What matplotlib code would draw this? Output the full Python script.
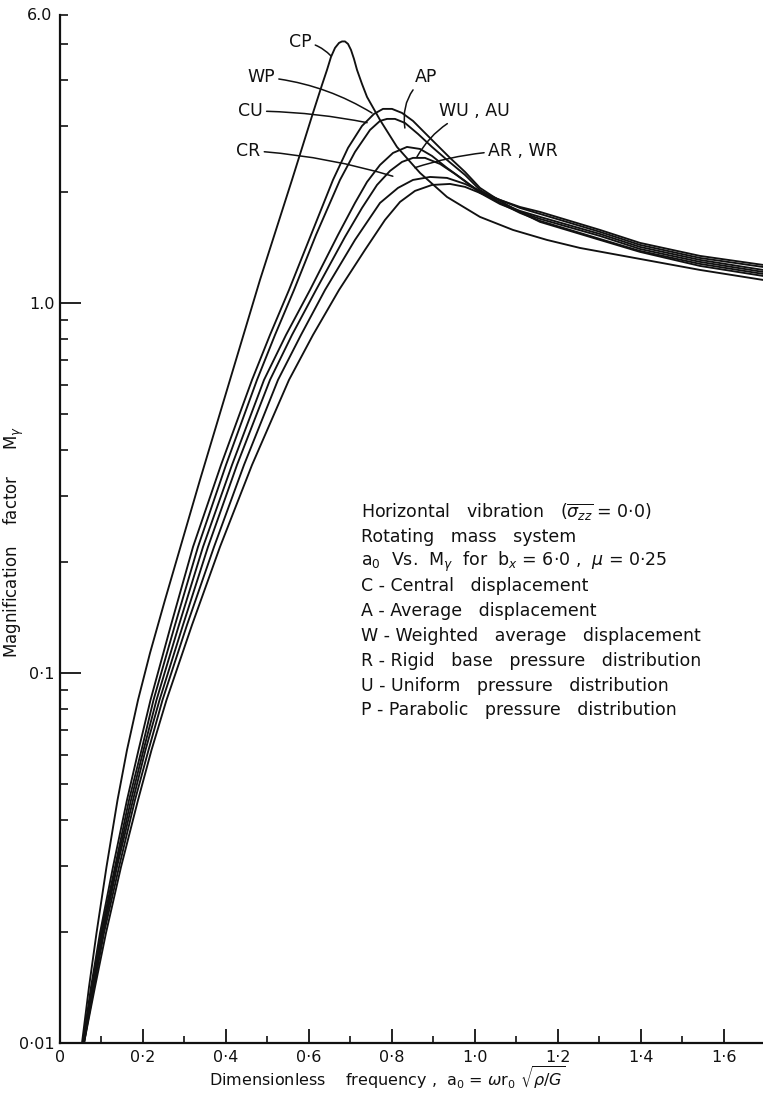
import matplotlib
matplotlib.use("Agg")
import matplotlib.pyplot as plt
import matplotlib.transforms as mtransforms
from matplotlib.ticker import NullFormatter

# ---------------- data ----------------
cp_a = [0.0530, 0.0699, 0.0880, 0.1120, 0.1386, 0.1614, 0.1880, 0.2169, 0.2530, 0.3373,
        0.4096, 0.4819, 0.5590, 0.6096, 0.6313, 0.6434, 0.6530, 0.6627, 0.6723, 0.6795,
        0.6867, 0.6940, 0.7012, 0.7084, 0.7157, 0.7277, 0.7398, 0.7711, 0.8120, 0.8675,
        0.9325, 1.0120, 1.0916, 1.1735, 1.2530, 1.3976, 1.5422, 1.6940]
cp_m = [0.0100, 0.01417, 0.01983, 0.0299, 0.04535, 0.0619, 0.0845, 0.1132, 0.1575, 0.3324,
        0.6194, 1.154, 2.150, 3.262, 3.883, 4.264, 4.622, 4.889, 5.043, 5.090,
        5.090, 5.012, 4.828, 4.565, 4.264, 3.907, 3.604, 3.123, 2.640, 2.246,
        1.934, 1.708, 1.575, 1.480, 1.408, 1.315, 1.228, 1.154]

wp_a = [0.0554, 0.0747, 0.0964, 0.1277, 0.1614, 0.1892, 0.2181, 0.2675, 0.3205, 0.3880,
        0.4627, 0.5060, 0.5518, 0.6048, 0.6578, 0.6940, 0.7277, 0.7566, 0.7783, 0.8000,
        0.8241, 0.8506, 0.8795, 0.9084, 0.9398, 0.9759, 1.0120, 1.0602, 1.1084, 1.1566,
        1.3012, 1.3976, 1.5422, 1.6940]
wp_m = [0.0100, 0.01417, 0.01983, 0.0299, 0.04535, 0.0619, 0.0845, 0.1348, 0.2191, 0.3649,
        0.6194, 0.8194, 1.084, 1.527, 2.150, 2.624, 3.008, 3.242, 3.345, 3.345,
        3.262, 3.104, 2.880, 2.673, 2.466, 2.260, 2.046, 1.886, 1.762, 1.656,
        1.480, 1.374, 1.259, 1.183]

cu_a = [0.0554, 0.0771, 0.0988, 0.1325, 0.1663, 0.1964, 0.2253, 0.2771, 0.3325, 0.4000,
        0.4747, 0.5181, 0.5639, 0.6169, 0.6747, 0.7108, 0.7470, 0.7711, 0.7880, 0.8072,
        0.8313, 0.8627, 0.8964, 0.9325, 0.9759, 1.0120, 1.0602, 1.1084, 1.1566, 1.3012,
        1.3976, 1.5422, 1.6940]
cu_m = [0.0100, 0.01417, 0.01983, 0.0299, 0.04535, 0.0619, 0.0845, 0.1348, 0.2191, 0.3649,
        0.6194, 0.8194, 1.084, 1.527, 2.150, 2.559, 2.934, 3.104, 3.143, 3.143,
        3.065, 2.862, 2.640, 2.435, 2.218, 2.020, 1.863, 1.751, 1.666, 1.489,
        1.382, 1.275, 1.198]

ap_a = [0.0554, 0.0771, 0.1012, 0.1349, 0.1711, 0.2012, 0.2325, 0.2867, 0.3446, 0.4145,
        0.4916, 0.5446, 0.6024, 0.6699, 0.7108, 0.7398, 0.7711, 0.8024, 0.8361, 0.8675,
        0.8964, 0.9325, 0.9759, 1.0120, 1.0602, 1.1084, 1.1566, 1.3012, 1.3976, 1.5422,
        1.6940]
ap_m = [0.0100, 0.01417, 0.01983, 0.0299, 0.04535, 0.0619, 0.0845, 0.1348, 0.2191, 0.3649,
        0.6194, 0.8194, 1.084, 1.527, 1.863, 2.123, 2.360, 2.543, 2.640, 2.607,
        2.496, 2.317, 2.137, 1.983, 1.851, 1.762, 1.687, 1.517, 1.399, 1.291,
        1.213]

wu_a = [0.0578, 0.0795, 0.1036, 0.1373, 0.1759, 0.2060, 0.2398, 0.2964, 0.3566, 0.4265,
        0.5060, 0.5590, 0.6169, 0.6867, 0.7277, 0.7639, 0.7952, 0.8241, 0.8506, 0.8795,
        0.9157, 0.9518, 0.9880, 1.0241, 1.0602, 1.1084, 1.1566, 1.3012, 1.3976, 1.5422,
        1.6940]
wu_m = [0.0100, 0.01417, 0.01983, 0.0299, 0.04535, 0.0619, 0.0845, 0.1348, 0.2191, 0.3649,
        0.6194, 0.8194, 1.084, 1.508, 1.806, 2.084, 2.274, 2.405, 2.466, 2.466,
        2.375, 2.232, 2.084, 1.958, 1.863, 1.773, 1.708, 1.536, 1.417, 1.307,
        1.228]

ar_a = [0.0578, 0.0819, 0.1060, 0.1422, 0.1807, 0.2133, 0.2470, 0.3060, 0.3711, 0.4434,
        0.5253, 0.5807, 0.6386, 0.7108, 0.7711, 0.8145, 0.8506, 0.8916, 0.9325, 0.9759,
        1.0120, 1.0602, 1.1084, 1.1566, 1.3012, 1.3976, 1.5422, 1.6940]
ar_m = [0.0100, 0.01417, 0.01983, 0.0299, 0.04535, 0.0619, 0.0845, 0.1348, 0.2191, 0.3649,
        0.6194, 0.8194, 1.084, 1.480, 1.863, 2.046, 2.150, 2.190, 2.177, 2.097,
        2.008, 1.898, 1.806, 1.740, 1.556, 1.435, 1.323, 1.251]

cr_a = [0.0578, 0.0843, 0.1108, 0.1470, 0.1880, 0.2205, 0.2566, 0.3181, 0.3855, 0.4627,
        0.5518, 0.6096, 0.6723, 0.7349, 0.7831, 0.8193, 0.8554, 0.8964, 0.9398, 0.9759,
        1.0120, 1.0602, 1.1084, 1.1566, 1.3012, 1.3976, 1.5422, 1.6940]
cr_m = [0.0100, 0.01417, 0.01983, 0.0299, 0.04535, 0.0619, 0.0845, 0.1348, 0.2191, 0.3649,
        0.6194, 0.8194, 1.084, 1.391, 1.676, 1.875, 2.008, 2.084, 2.097, 2.059,
        1.983, 1.898, 1.817, 1.762, 1.575, 1.453, 1.340, 1.267]

x_major = [0.0, 0.2, 0.4, 0.6, 0.8, 1.0, 1.2, 1.4, 1.6]
x_labels = ["0", "0·2", "0·4", "0·6", "0·8", "1·0", "1·2", "1·4", "1·6"]
x_minor = [0.1, 0.3, 0.5, 0.7, 0.9, 1.1, 1.3, 1.5]
y_major = [0.01, 0.1, 1.0]
y_labels = ["0·01", "0·1", "1.0"]
y_minor = [0.02, 0.03, 0.04, 0.05, 0.06, 0.07, 0.08, 0.09,
           0.2, 0.3, 0.4, 0.5, 0.6, 0.7, 0.8, 0.9, 2.0, 3.0, 4.0, 5.0, 6.0]
y_top_label = "6.0"

notes = ["Horizontal   vibration   ($\\overline{\\sigma_{zz}}$ = 0·0)",
         "Rotating   mass   system",
         "a$_0$  Vs.  M$_\\gamma$  for  b$_x$ = 6·0 ,  $\\mu$ = 0·25",
         "C - Central   displacement",
         "A - Average   displacement",
         "W - Weighted   average   displacement",
         "R - Rigid   base   pressure   distribution",
         "U - Uniform   pressure   distribution",
         "P - Parabolic   pressure   distribution"]

# ---------------- figure ----------------
W, H = 763, 1095
fig = plt.figure(figsize=(W / 100, H / 100), dpi=100)
fig.patch.set_facecolor("white")
ax = fig.add_axes([60 / W, 52 / H, 703 / W, 1028 / H])
ax.set_yscale("log")
ax.set_xlim(0, 1.694)
ax.set_ylim(0.01, 6.0)

ink = "#111111"
lw = 1.35
for a, m in [(cp_a, cp_m), (wp_a, wp_m), (cu_a, cu_m), (ap_a, ap_m),
             (wu_a, wu_m), (ar_a, ar_m), (cr_a, cr_m)]:
    ax.plot(a, m, color=ink, lw=lw, solid_joinstyle="round", solid_capstyle="round")

for s in ("top", "right"):
    ax.spines[s].set_visible(False)
for s in ("left", "bottom"):
    ax.spines[s].set_linewidth(1.6)
    ax.spines[s].set_color(ink)

ax.set_xticks(x_major)
ax.set_xticklabels(x_labels)
ax.set_xticks(x_minor, minor=True)
ax.set_yticks(y_major)
ax.set_yticklabels(y_labels)
ax.set_yticks(y_minor, minor=True)
ax.yaxis.set_minor_formatter(NullFormatter())

ax.tick_params(axis="x", which="major", direction="in", length=10, width=1.3, pad=5,
               labelsize=11.5, colors=ink)
ax.tick_params(axis="x", which="minor", direction="in", length=5, width=1.2, colors=ink)
ax.tick_params(axis="y", which="major", direction="in", length=15, width=1.3, pad=4,
               labelsize=11.5, colors=ink)
ax.tick_params(axis="y", which="minor", direction="in", length=6, width=1.2, colors=ink)

trans = mtransforms.blended_transform_factory(ax.transAxes, ax.transData)
ax.text(-0.011, 6.0, y_top_label, transform=trans, ha="right", va="center",
        fontsize=11.5, color=ink)

fig.text(387 / W, 1 - 1078 / H,
         "Dimensionless    frequency ,  a$_0$ = $\\omega$r$_0$ $\\sqrt{\\rho/G}$",
         ha="center", va="center", fontsize=11.5, color=ink)
fig.text(14 / W, 1 - 542 / H, "Magnification    factor     M$_\\gamma$", rotation=90,
         ha="center", va="center", fontsize=12, color=ink)

# curve labels with leader lines
lab_fs = 12.5
arrow = dict(arrowstyle="-", lw=1.1, color=ink, shrinkA=1, shrinkB=0)
ax.annotate("CP", xy=(0.653, 4.65), xytext=(0.578, 5.08), ha="center", va="center",
            fontsize=lab_fs, color=ink,
            arrowprops=dict(arrow, connectionstyle="arc3,rad=-0.2"))
ax.annotate("WP", xy=(0.752, 3.26), xytext=(0.484, 4.08), ha="center", va="center",
            fontsize=lab_fs, color=ink,
            arrowprops=dict(arrow, connectionstyle="arc3,rad=-0.12"))
ax.annotate("CU", xy=(0.740, 3.07), xytext=(0.458, 3.30), ha="center", va="center",
            fontsize=lab_fs, color=ink,
            arrowprops=dict(arrow, connectionstyle="arc3,rad=-0.05"))
ax.annotate("CR", xy=(0.802, 2.20), xytext=(0.453, 2.58), ha="center", va="center",
            fontsize=lab_fs, color=ink,
            arrowprops=dict(arrow, connectionstyle="arc3,rad=-0.06"))
ax.annotate("AP", xy=(0.831, 2.97), xytext=(0.882, 4.08), ha="center", va="center",
            fontsize=lab_fs, color=ink,
            arrowprops=dict(arrow, connectionstyle="arc3,rad=0.3"))
ax.annotate("WU , AU", xy=(0.860, 2.48), xytext=(0.998, 3.30), ha="center", va="center",
            fontsize=lab_fs, color=ink,
            arrowprops=dict(arrow, connectionstyle="arc3,rad=0.2"))
ax.annotate("AR , WR", xy=(0.855, 2.32), xytext=(1.116, 2.58), ha="center", va="center",
            fontsize=lab_fs, color=ink,
            arrowprops=dict(arrow, connectionstyle="arc3,rad=0.08"))

# description block
y0 = 512
for i, line in enumerate(notes):
    fig.text(361 / W, 1 - (y0 + 24.8 * i) / H, line, ha="left", va="center",
             fontsize=12.5, color=ink)

fig.savefig("out.png", dpi=100, facecolor="white")
